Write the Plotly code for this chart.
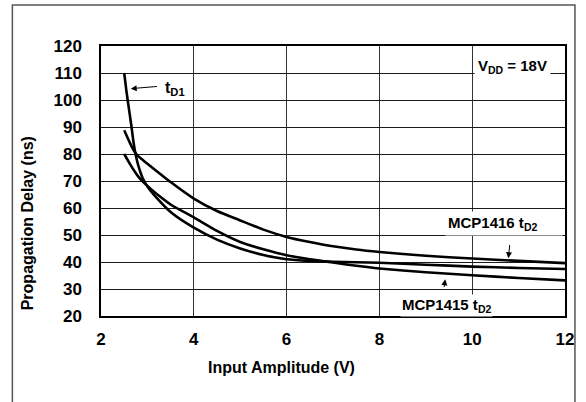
import plotly.graph_objects as go

# Data
x_td1 = [2.5, 2.55, 2.6, 2.65, 2.7, 2.75, 2.8, 2.9, 3.0, 3.25, 3.5, 4.0, 4.5, 5.0, 5.5, 6.0, 6.5, 7.0, 7.5, 8.0, 9.0, 10.0, 11.0, 12.0]
y_td1 = [110, 103, 97, 91, 84.5, 79.5, 76, 71, 68, 62.8, 58.5, 52.7, 48.3, 45.0, 42.6, 41.0, 40.4, 40.1, 39.9, 39.7, 39.0, 38.3, 37.8, 37.4]

x_1415 = [2.5, 2.6, 2.7, 2.8, 2.9, 3.0, 3.25, 3.5, 4.0, 4.5, 5.0, 5.5, 6.0, 6.5, 7.0, 7.5, 8.0, 9.0, 10.0, 11.0, 12.0]
y_1415 = [80.0, 77.0, 74.2, 71.7, 69.8, 68.2, 64.5, 61.3, 56.5, 51.5, 47.4, 44.7, 42.5, 41.0, 39.8, 38.6, 37.6, 36.2, 35.1, 34.1, 33.2]

x_1416 = [2.5, 2.6, 2.7, 2.8, 2.9, 3.0, 3.25, 3.5, 4.0, 4.5, 5.0, 5.5, 6.0, 6.5, 7.0, 7.5, 8.0, 9.0, 10.0, 11.0, 12.0]
y_1416 = [88.8, 85.0, 81.5, 79.2, 77.8, 76.4, 73.0, 69.6, 63.5, 58.9, 55.4, 52.0, 49.3, 47.4, 45.8, 44.6, 43.7, 42.3, 41.3, 40.4, 39.6]

x_ticks = [2, 4, 6, 8, 10, 12]
y_ticks = [20, 30, 40, 50, 60, 70, 80, 90, 100, 110, 120]

FONT = "Liberation Sans, Arial, sans-serif"
W, H = 586, 402
L, R, T, B = 101, 19, 46, 86
PW, PH = W - L - R, H - T - B

def px(xp):
    return (xp - L) / PW

def py(yp):
    return (H - B - yp) / PH

fig = go.Figure()
for xs, ys in [(x_td1, y_td1), (x_1415, y_1415), (x_1416, y_1416)]:
    fig.add_trace(go.Scatter(x=xs, y=ys, mode="lines",
                             line=dict(color="black", width=2.6, shape="spline", smoothing=0.6),
                             showlegend=False, hoverinfo="skip"))

axis_common = dict(showgrid=True, gridwidth=1,
                   showline=True, linecolor="black", linewidth=1.5, mirror=True,
                   zeroline=False, ticks="outside", tickcolor="rgba(0,0,0,0)",
                   tickfont=dict(family=FONT, size=17, color="black", weight="bold"))

fig.update_xaxes(range=[2, 12], tickvals=x_ticks, ticklen=7, gridcolor="#333333", **axis_common)
fig.update_yaxes(range=[20, 120], tickvals=y_ticks, ticklen=14, gridcolor="#1a1a1a", **axis_common)

bold = lambda s: "<b>" + s + "</b>"

annotations = [
    # axis titles
    dict(text=bold("Input Amplitude (V)"), xref="paper", yref="paper",
         x=px(282), y=py(367), xanchor="center", yanchor="middle", showarrow=False,
         font=dict(family=FONT, size=16, color="black")),
    dict(text=bold("Propagation Delay (ns)"), xref="paper", yref="paper",
         x=px(27), y=py(223), xanchor="center", yanchor="middle", showarrow=False, textangle=-90,
         font=dict(family=FONT, size=16, color="black")),
    # labels
    dict(text=bold("V<sub>DD</sub> = 18V"), x=10.86, y=112.5, showarrow=False,
         bgcolor="white", borderpad=3,
         font=dict(family=FONT, size=15, color="black")),
    dict(text=bold("t<sub>D1</sub>"), x=3.6, y=104.3, showarrow=False,
         font=dict(family=FONT, size=16, color="black")),
    dict(text=bold("MCP1416 t<sub>D2</sub>"), x=10.69, y=54.4, showarrow=False,
         width=112, align="left", bgcolor="white", borderpad=2,
         font=dict(family=FONT, size=15, color="black")),
    dict(text=bold("MCP1415 t<sub>D2</sub>"), x=9.45, y=23.8, showarrow=False,
         bgcolor="white", borderpad=1,
         font=dict(family=FONT, size=15, color="black")),
]

# arrows (head at x,y ; tail at ax,ay)
for hx, hy, tx, ty in [(2.64, 104.2, 3.27, 105.1),
                       (10.78, 41.4, 10.83, 50.0),
                       (9.42, 33.6, 9.36, 27.0)]:
    annotations.append(dict(text=" ", x=hx, y=hy, ax=tx, ay=ty, axref="x", ayref="y",
                            showarrow=True, arrowhead=2, arrowsize=1.2, arrowwidth=1,
                            arrowcolor="black", standoff=0, startstandoff=0))

fig.update_layout(
    width=W, height=H,
    margin=dict(l=L, r=R, t=T, b=B),
    paper_bgcolor="white", plot_bgcolor="white",
    annotations=annotations,
    shapes=[dict(type="rect", xref="paper", yref="paper",
                 x0=px(12), x1=px(577), y0=py(420), y1=py(5),
                 line=dict(color="#555555", width=1.5), fillcolor="rgba(0,0,0,0)")],
)

fig.write_html("out.html", config={"displayModeBar": False},
               post_script="document.body.style.margin='0';document.body.style.overflow='hidden';")
